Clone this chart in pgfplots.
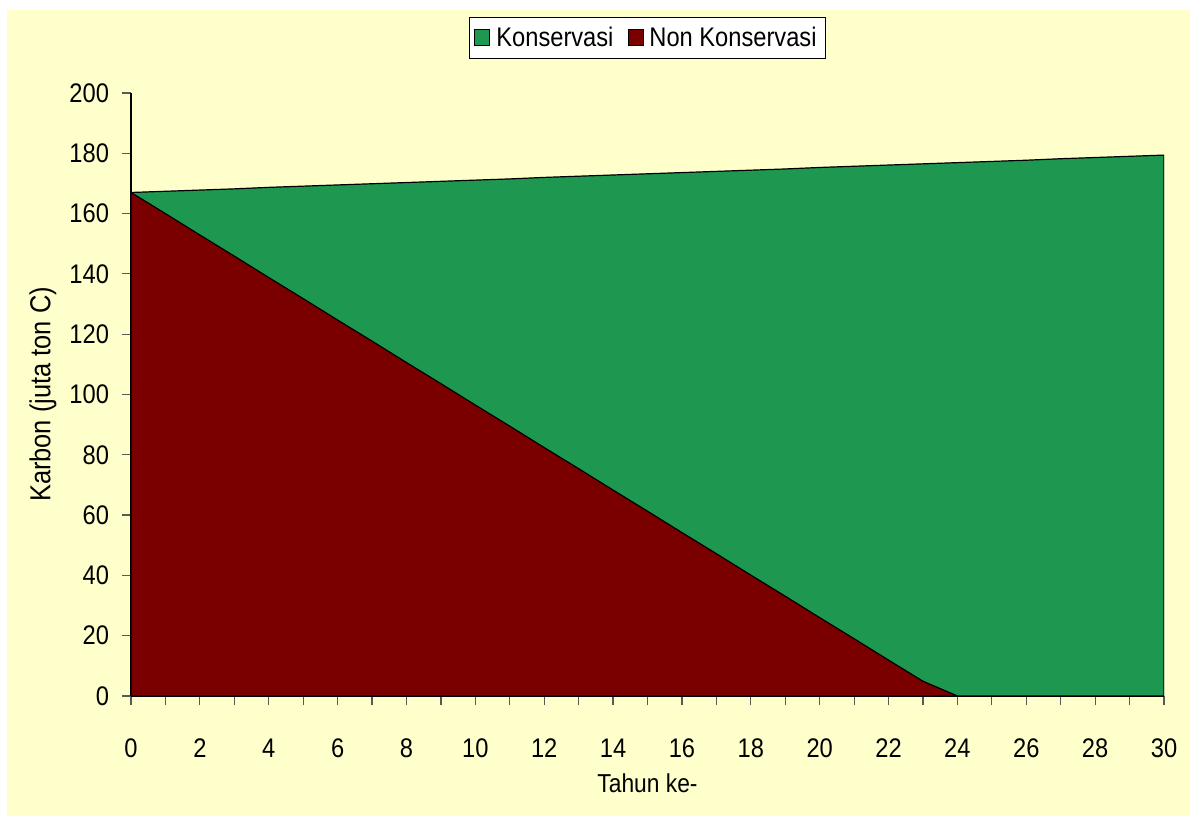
\documentclass[border=0pt]{standalone}
\usepackage{fontspec}
\setmainfont{Liberation Sans}[FakeStretch=0.88]
\usepackage{pgfplots}
\pgfplotsset{compat=1.18}

\definecolor{bgyellow}{RGB}{255,255,204}
\definecolor{konsgreen}{RGB}{30,152,80}
\definecolor{nonred}{RGB}{122,0,0}

\begin{document}
\begin{tikzpicture}
\useasboundingbox (0,0) rectangle (595bp,408bp);
\fill[bgyellow] (3.5bp,0) rectangle (595bp,403bp);
\begin{axis}[
  at={(65.5bp,60bp)}, anchor=south west,
  scale only axis, width=516.5bp, height=301.5bp,
  xmin=0, xmax=30, ymin=0, ymax=200,
  axis lines*=left,
  axis line style={black, line width=0.6bp, -},
  xtick={0,2,...,30}, minor xtick={1,3,...,29},
  ytick={0,20,...,200},
  tick align=outside,
  major tick length=4.5bp, minor tick length=4.5bp,
  tick style={black!65, line width=0.6bp},
  /pgf/number format/assume math mode=true,
  every tick label/.append style={font=\fontsize{13.5}{15}\selectfont},
  xticklabel style={yshift=-13.5bp},
  yticklabel style={xshift=-3bp},
  xlabel={Tahun ke-},
  ylabel={Karbon (juta ton C)},
  every axis x label/.style={at={(axis description cs:0.5,0)}, yshift=-43.5bp, anchor=center, font=\fontsize{13}{15}\selectfont},
  every axis y label/.style={at={(axis description cs:0,0.5)}, xshift=-44bp, rotate=90, anchor=center, font=\fontsize{14.5}{16}\selectfont},
  legend style={at={(axis description cs:0.5,1.0912)}, anchor=center,
    legend columns=2, draw=black, fill=white, line width=0.5bp,
    font=\fontsize{13.5}{15}\selectfont, inner sep=2.5bp,
    /tikz/every odd column/.append style={column sep=1bp},
    /tikz/every even column/.append style={column sep=5bp}},
  legend image code/.code={\draw[#1, draw=black, line width=0.5bp] (0bp,-4bp) rectangle (7.5bp,4bp);},
  legend cell align=left,
]
% Konservasi: carbon stock kept under conservation
\addplot[fill=konsgreen, draw=black, line width=0.6bp] coordinates {
  (0,167.0) (1,167.4) (2,167.8) (3,168.2) (4,168.7) (5,169.1)
  (6,169.5) (7,169.9) (8,170.3) (9,170.7) (10,171.1) (11,171.5)
  (12,172.0) (13,172.4) (14,172.8) (15,173.2) (16,173.6) (17,174.0)
  (18,174.4) (19,174.8) (20,175.3) (21,175.7) (22,176.1) (23,176.5)
  (24,176.9) (25,177.3) (26,177.7) (27,178.2) (28,178.6) (29,179.0)
  (30,179.4)
} \closedcycle;
\addlegendentry{Konservasi}
% Non Konservasi: carbon stock without conservation
\addplot[fill=nonred, draw=black, line width=0.6bp] coordinates {
  (0,167.0) (1,160.0) (2,152.9) (3,145.9) (4,138.8) (5,131.8)
  (6,124.7) (7,117.7) (8,110.6) (9,103.6) (10,96.5) (11,89.5)
  (12,82.4) (13,75.4) (14,68.3) (15,61.3) (16,54.2) (17,47.2)
  (18,40.1) (19,33.1) (20,26.0) (21,19.0) (22,11.9) (23,4.9)
  (24,0.0)
} \closedcycle;
\addlegendentry{Non Konservasi}
\end{axis}
\end{tikzpicture}
\end{document}
